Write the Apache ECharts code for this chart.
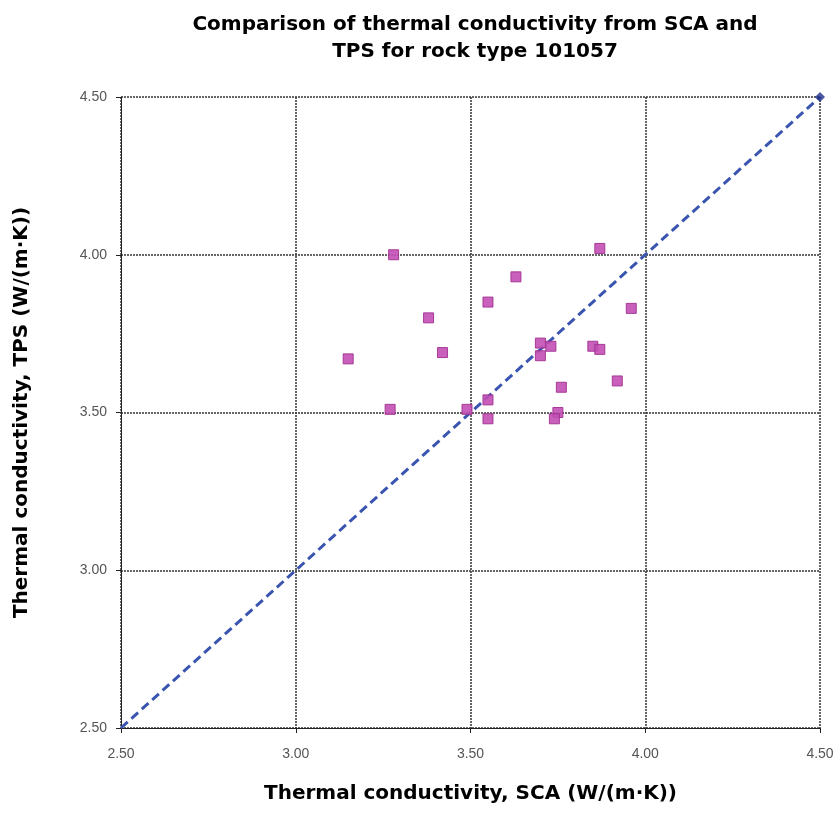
<!DOCTYPE html>
<html><head><meta charset="utf-8">
<script src="https://cdn.jsdelivr.net/npm/echarts@6/dist/echarts.min.js"></script>
<style>html,body{margin:0;padding:0;background:#fff}#c{width:837px;height:814px}</style>
</head><body><div id="c"></div>
<script>
const titleText = "Comparison of thermal conductivity from SCA and\nTPS for rock type 101057";
const xName = "Thermal conductivity, SCA (W/(m·K))";
const yName = "Thermal conductivity, TPS (W/(m·K))";
const scaValues = [3.28,3.87,3.63,3.55,3.96,3.38,3.42,3.15,3.70,3.73,3.70,3.85,3.87,3.92,3.76,3.27,3.49,3.55,3.55,3.75,3.74];
const tpsValues = [4.00,4.02,3.93,3.85,3.83,3.80,3.69,3.67,3.72,3.71,3.68,3.71,3.70,3.60,3.58,3.51,3.51,3.54,3.48,3.50,3.48];
const lineX = [2.5,4.5];
const lineY = [2.5,4.5];
const axisMin = 2.5, axisMax = 4.5, axisStep = 0.5;

const chart = echarts.init(document.getElementById('c'), null, {renderer:'canvas'});
const nameFont = {fontFamily:'DejaVu Sans',fontWeight:'bold',fontSize:20,color:'#000'};
const labelStyle = {formatter:v=>v.toFixed(2),fontFamily:'Liberation Sans',fontSize:14,color:'#555'};
chart.setOption({
  animation:false,
  backgroundColor:'#fff',
  title:{text:titleText,left:470,textAlign:'center',top:6,
    textStyle:{fontFamily:'DejaVu Sans',fontWeight:'bold',fontSize:20,lineHeight:27,color:'#000'}},
  grid:{left:121,right:17,top:97,bottom:86,outerBoundsMode:'none',containLabel:false},
  xAxis:{type:'value',min:axisMin,max:axisMax,interval:axisStep,
    name:xName,nameLocation:'middle',nameGap:56,nameTextStyle:nameFont,
    axisLine:{show:true,lineStyle:{color:'#222',width:1}},
    axisTick:{show:true,length:5,lineStyle:{color:'#222'}},
    axisLabel:Object.assign({margin:19},labelStyle),
    splitLine:{show:true,lineStyle:{color:'#333',type:[2,1],width:1.5}}},
  yAxis:{type:'value',min:axisMin,max:axisMax,interval:axisStep,
    name:yName,nameLocation:'middle',nameGap:89,nameRotate:90,nameTextStyle:nameFont,
    axisLine:{show:true,lineStyle:{color:'#222',width:1}},
    axisTick:{show:true,length:5,lineStyle:{color:'#222'}},
    axisLabel:Object.assign({margin:14},labelStyle),
    splitLine:{show:true,lineStyle:{color:'#333',type:[2,1],width:1.5}}},
  series:[
    {type:'line',data:lineX.map((x,i)=>[x,lineY[i]]),
      lineStyle:{color:'#3a55b0',width:3,type:[9,5]},
      symbol:'none',z:3},
    {type:'scatter',data:[[lineX[1],lineY[1]]],symbol:'diamond',symbolSize:10,
      itemStyle:{color:'#1f2f8a'},z:4},
    {type:'scatter',data:scaValues.map((x,i)=>[x,tpsValues[i]]),
      symbol:'rect',symbolSize:10,
      itemStyle:{color:'#c24fb5',borderColor:'#a0308f',borderWidth:1,opacity:0.9},z:5}
  ]
});
</script></body></html>
